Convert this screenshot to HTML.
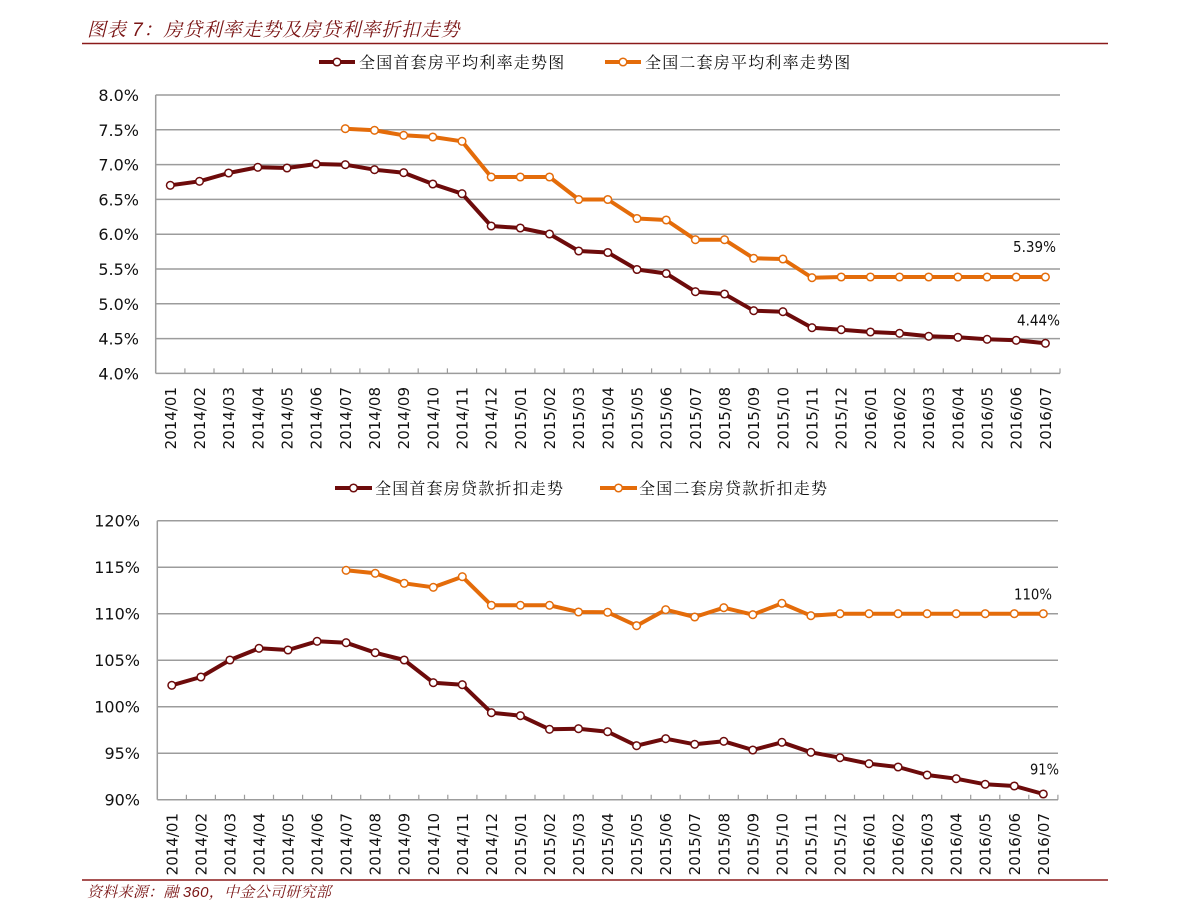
<!DOCTYPE html>
<html><head><meta charset="utf-8"><style>
html,body{margin:0;padding:0;background:#fff;}
svg{display:block;}
.yl{font-family:"DejaVu Sans","Liberation Sans",sans-serif;font-size:16px;fill:#111;}
.xl{font-family:"DejaVu Sans","Liberation Sans",sans-serif;font-size:15px;fill:#111;}
.dl{font-family:"DejaVu Sans","Liberation Sans",sans-serif;font-size:15px;fill:#111;}
.lg{font-family:"Liberation Serif","Noto Serif CJK SC",serif;font-size:16px;letter-spacing:1.2px;fill:#111;}
.ti{font-family:"Liberation Serif","Noto Serif CJK SC",serif;font-size:19px;font-style:italic;letter-spacing:0.8px;fill:#7a1515;}
.ft{font-family:"Liberation Serif","Noto Serif CJK SC",serif;font-size:15px;font-style:italic;letter-spacing:0.3px;fill:#7a1515;}
.sn{font-family:"Liberation Sans",sans-serif;font-style:italic;}
</style></head><body>
<svg width="1191" height="920" viewBox="0 0 1191 920" xmlns="http://www.w3.org/2000/svg">
<defs>
<marker id="md" markerUnits="userSpaceOnUse" markerWidth="12" markerHeight="12" refX="6" refY="6" viewBox="0 0 12 12"><circle cx="6" cy="6" r="3.8" fill="#fff" stroke="#6d0b0b" stroke-width="1.5"/></marker>
<marker id="mo" markerUnits="userSpaceOnUse" markerWidth="12" markerHeight="12" refX="6" refY="6" viewBox="0 0 12 12"><circle cx="6" cy="6" r="3.8" fill="#fff" stroke="#e46c0a" stroke-width="1.5"/></marker>
</defs>

<!-- Title -->
<text class="ti" x="87" y="36">图表 <tspan class="sn">7</tspan>：房贷利率走势及房贷利率折扣走势</text>
<line x1="82" y1="43.5" x2="1108" y2="43.5" stroke="#8b1a1a" stroke-width="1.5"/>

<!-- Chart 1 legend -->
<line x1="319" y1="62" x2="355" y2="62" stroke="#6d0b0b" stroke-width="4"/>
<circle cx="337" cy="62" r="3.8" fill="#fff" stroke="#6d0b0b" stroke-width="1.5"/>
<text class="lg" x="359" y="68">全国首套房平均利率走势图</text>
<line x1="605" y1="62" x2="641" y2="62" stroke="#e46c0a" stroke-width="4"/>
<circle cx="623" cy="62" r="3.8" fill="#fff" stroke="#e46c0a" stroke-width="1.5"/>
<text class="lg" x="645" y="68">全国二套房平均利率走势图</text>

<!-- Chart 1 grid -->
<g stroke="#9c9c9c" stroke-width="1.5">
<line x1="155.7" y1="95" x2="1060" y2="95"/>
<line x1="155.7" y1="129.8" x2="1060" y2="129.8"/>
<line x1="155.7" y1="164.6" x2="1060" y2="164.6"/>
<line x1="155.7" y1="199.4" x2="1060" y2="199.4"/>
<line x1="155.7" y1="234.2" x2="1060" y2="234.2"/>
<line x1="155.7" y1="269" x2="1060" y2="269"/>
<line x1="155.7" y1="303.8" x2="1060" y2="303.8"/>
<line x1="155.7" y1="338.6" x2="1060" y2="338.6"/>
<line x1="155.7" y1="373.4" x2="1060" y2="373.4"/>
<line x1="155.7" y1="95" x2="155.7" y2="373.4"/>
</g>
<path stroke="#9c9c9c" stroke-width="1.2" fill="none" d="M184.9 368.4V373.4M214.0 368.4V373.4M243.2 368.4V373.4M272.4 368.4V373.4M301.6 368.4V373.4M330.7 368.4V373.4M359.9 368.4V373.4M389.1 368.4V373.4M418.2 368.4V373.4M447.4 368.4V373.4M476.6 368.4V373.4M505.7 368.4V373.4M534.9 368.4V373.4M564.1 368.4V373.4M593.3 368.4V373.4M622.4 368.4V373.4M651.6 368.4V373.4M680.8 368.4V373.4M709.9 368.4V373.4M739.1 368.4V373.4M768.3 368.4V373.4M797.4 368.4V373.4M826.6 368.4V373.4M855.8 368.4V373.4M885.0 368.4V373.4M914.1 368.4V373.4M943.3 368.4V373.4M972.5 368.4V373.4M1001.6 368.4V373.4M1030.8 368.4V373.4M1060 368.4V373.4"/>

<!-- Chart 1 y labels -->
<g class="yl" text-anchor="end">
<text x="139" y="101">8.0%</text>
<text x="139" y="135.8">7.5%</text>
<text x="139" y="170.6">7.0%</text>
<text x="139" y="205.4">6.5%</text>
<text x="139" y="240.2">6.0%</text>
<text x="139" y="275">5.5%</text>
<text x="139" y="309.8">5.0%</text>
<text x="139" y="344.6">4.5%</text>
<text x="139" y="379.4">4.0%</text>
</g>

<!-- Chart 1 x labels -->
<g class="xl" text-anchor="end">
<text transform="translate(175.8,387) rotate(-90)">2014/01</text>
<text transform="translate(205.0,387) rotate(-90)">2014/02</text>
<text transform="translate(234.1,387) rotate(-90)">2014/03</text>
<text transform="translate(263.3,387) rotate(-90)">2014/04</text>
<text transform="translate(292.5,387) rotate(-90)">2014/05</text>
<text transform="translate(321.6,387) rotate(-90)">2014/06</text>
<text transform="translate(350.8,387) rotate(-90)">2014/07</text>
<text transform="translate(380.0,387) rotate(-90)">2014/08</text>
<text transform="translate(409.2,387) rotate(-90)">2014/09</text>
<text transform="translate(438.3,387) rotate(-90)">2014/10</text>
<text transform="translate(467.5,387) rotate(-90)">2014/11</text>
<text transform="translate(496.7,387) rotate(-90)">2014/12</text>
<text transform="translate(525.8,387) rotate(-90)">2015/01</text>
<text transform="translate(555.0,387) rotate(-90)">2015/02</text>
<text transform="translate(584.2,387) rotate(-90)">2015/03</text>
<text transform="translate(613.3,387) rotate(-90)">2015/04</text>
<text transform="translate(642.5,387) rotate(-90)">2015/05</text>
<text transform="translate(671.7,387) rotate(-90)">2015/06</text>
<text transform="translate(700.9,387) rotate(-90)">2015/07</text>
<text transform="translate(730.0,387) rotate(-90)">2015/08</text>
<text transform="translate(759.2,387) rotate(-90)">2015/09</text>
<text transform="translate(788.4,387) rotate(-90)">2015/10</text>
<text transform="translate(817.5,387) rotate(-90)">2015/11</text>
<text transform="translate(846.7,387) rotate(-90)">2015/12</text>
<text transform="translate(875.9,387) rotate(-90)">2016/01</text>
<text transform="translate(905.0,387) rotate(-90)">2016/02</text>
<text transform="translate(934.2,387) rotate(-90)">2016/03</text>
<text transform="translate(963.4,387) rotate(-90)">2016/04</text>
<text transform="translate(992.6,387) rotate(-90)">2016/05</text>
<text transform="translate(1021.7,387) rotate(-90)">2016/06</text>
<text transform="translate(1050.9,387) rotate(-90)">2016/07</text>
</g>

<!-- Chart 1 series -->
<polyline fill="none" stroke="#6d0b0b" stroke-width="4" stroke-linejoin="round" marker-start="url(#md)" marker-mid="url(#md)" marker-end="url(#md)"
points="170.3,185.3 199.5,181.3 228.6,173 257.8,167.3 287.0,168 316.1,164 345.3,164.7 374.5,169.7 403.7,172.7 432.8,184 462.0,193.7 491.2,226 520.3,228 549.5,234 578.7,251 607.8,252.5 637.0,269.5 666.2,273.5 695.4,291.7 724.5,294 753.7,310.7 782.9,311.7 812.0,327.7 841.2,329.7 870.4,332 899.5,333.3 928.7,336.3 957.9,337.3 987.1,339.3 1016.2,340.3 1045.4,343.3"/>
<polyline fill="none" stroke="#e46c0a" stroke-width="4" stroke-linejoin="round" marker-start="url(#mo)" marker-mid="url(#mo)" marker-end="url(#mo)"
points="345.3,128.7 374.5,130.3 403.7,135.3 432.8,137 462.0,141.3 491.2,177 520.3,177 549.5,177 578.7,199.5 607.8,199.5 637.0,218.5 666.2,220 695.4,239.7 724.5,239.7 753.7,258.3 782.9,259 812.0,277.7 841.2,277 870.4,277 899.5,277 928.7,277 957.9,277 987.1,277 1016.2,277 1045.4,277"/>
<text class="dl" x="1013" y="252" textLength="43" lengthAdjust="spacingAndGlyphs">5.39%</text>
<text class="dl" x="1017" y="325.5" textLength="43" lengthAdjust="spacingAndGlyphs">4.44%</text>

<!-- Chart 2 legend -->
<line x1="335" y1="488" x2="372" y2="488" stroke="#6d0b0b" stroke-width="4"/>
<circle cx="353.5" cy="488" r="3.8" fill="#fff" stroke="#6d0b0b" stroke-width="1.5"/>
<text class="lg" x="375" y="494">全国首套房贷款折扣走势</text>
<line x1="600" y1="488" x2="637" y2="488" stroke="#e46c0a" stroke-width="4"/>
<circle cx="618.5" cy="488" r="3.8" fill="#fff" stroke="#e46c0a" stroke-width="1.5"/>
<text class="lg" x="639" y="494">全国二套房贷款折扣走势</text>

<!-- Chart 2 grid -->
<g stroke="#9c9c9c" stroke-width="1.5">
<line x1="157.3" y1="520.7" x2="1058" y2="520.7"/>
<line x1="157.3" y1="567.2" x2="1058" y2="567.2"/>
<line x1="157.3" y1="613.7" x2="1058" y2="613.7"/>
<line x1="157.3" y1="660.2" x2="1058" y2="660.2"/>
<line x1="157.3" y1="706.7" x2="1058" y2="706.7"/>
<line x1="157.3" y1="753.2" x2="1058" y2="753.2"/>
<line x1="157.3" y1="799.7" x2="1058" y2="799.7"/>
<line x1="157.3" y1="520.7" x2="157.3" y2="799.7"/>
</g>
<path stroke="#9c9c9c" stroke-width="1.2" fill="none" d="M186.4 794.7V799.7M215.4 794.7V799.7M244.5 794.7V799.7M273.5 794.7V799.7M302.6 794.7V799.7M331.6 794.7V799.7M360.7 794.7V799.7M389.7 794.7V799.7M418.8 794.7V799.7M447.8 794.7V799.7M476.9 794.7V799.7M505.9 794.7V799.7M535.0 794.7V799.7M564.0 794.7V799.7M593.1 794.7V799.7M622.1 794.7V799.7M651.2 794.7V799.7M680.2 794.7V799.7M709.3 794.7V799.7M738.3 794.7V799.7M767.4 794.7V799.7M796.4 794.7V799.7M825.5 794.7V799.7M854.5 794.7V799.7M883.6 794.7V799.7M912.6 794.7V799.7M941.7 794.7V799.7M970.7 794.7V799.7M999.8 794.7V799.7M1028.8 794.7V799.7M1057.9 794.7V799.7"/>

<!-- Chart 2 y labels -->
<g class="yl" text-anchor="end">
<text x="140" y="526.7">120%</text>
<text x="140" y="573.2">115%</text>
<text x="140" y="619.7">110%</text>
<text x="140" y="666.2">105%</text>
<text x="140" y="712.7">100%</text>
<text x="140" y="759.2">95%</text>
<text x="140" y="805.7">90%</text>
</g>

<!-- Chart 2 x labels -->
<g class="xl" text-anchor="end">
<text transform="translate(177.3,813) rotate(-90)">2014/01</text>
<text transform="translate(206.4,813) rotate(-90)">2014/02</text>
<text transform="translate(235.4,813) rotate(-90)">2014/03</text>
<text transform="translate(264.5,813) rotate(-90)">2014/04</text>
<text transform="translate(293.5,813) rotate(-90)">2014/05</text>
<text transform="translate(322.6,813) rotate(-90)">2014/06</text>
<text transform="translate(351.6,813) rotate(-90)">2014/07</text>
<text transform="translate(380.7,813) rotate(-90)">2014/08</text>
<text transform="translate(409.7,813) rotate(-90)">2014/09</text>
<text transform="translate(438.8,813) rotate(-90)">2014/10</text>
<text transform="translate(467.8,813) rotate(-90)">2014/11</text>
<text transform="translate(496.9,813) rotate(-90)">2014/12</text>
<text transform="translate(525.9,813) rotate(-90)">2015/01</text>
<text transform="translate(555.0,813) rotate(-90)">2015/02</text>
<text transform="translate(584.0,813) rotate(-90)">2015/03</text>
<text transform="translate(613.1,813) rotate(-90)">2015/04</text>
<text transform="translate(642.1,813) rotate(-90)">2015/05</text>
<text transform="translate(671.2,813) rotate(-90)">2015/06</text>
<text transform="translate(700.2,813) rotate(-90)">2015/07</text>
<text transform="translate(729.3,813) rotate(-90)">2015/08</text>
<text transform="translate(758.3,813) rotate(-90)">2015/09</text>
<text transform="translate(787.4,813) rotate(-90)">2015/10</text>
<text transform="translate(816.4,813) rotate(-90)">2015/11</text>
<text transform="translate(845.5,813) rotate(-90)">2015/12</text>
<text transform="translate(874.5,813) rotate(-90)">2016/01</text>
<text transform="translate(903.6,813) rotate(-90)">2016/02</text>
<text transform="translate(932.6,813) rotate(-90)">2016/03</text>
<text transform="translate(961.7,813) rotate(-90)">2016/04</text>
<text transform="translate(990.7,813) rotate(-90)">2016/05</text>
<text transform="translate(1019.8,813) rotate(-90)">2016/06</text>
<text transform="translate(1048.8,813) rotate(-90)">2016/07</text>
</g>

<!-- Chart 2 series -->
<polyline fill="none" stroke="#6d0b0b" stroke-width="4" stroke-linejoin="round" marker-start="url(#md)" marker-mid="url(#md)" marker-end="url(#md)"
points="171.8,685.3 200.9,677 229.9,660 259.0,648.3 288.0,650 317.1,641.3 346.1,642.7 375.2,652.7 404.2,660 433.3,682.7 462.3,684.7 491.4,712.7 520.4,715.7 549.5,729.3 578.5,728.7 607.6,731.7 636.6,745.7 665.7,738.7 694.7,744.3 723.8,741.3 752.8,750 781.9,742.3 810.9,752.3 840.0,757.7 869.0,763.7 898.1,767 927.1,775 956.2,778.7 985.2,784.3 1014.3,786 1043.3,794"/>
<polyline fill="none" stroke="#e46c0a" stroke-width="4" stroke-linejoin="round" marker-start="url(#mo)" marker-mid="url(#mo)" marker-end="url(#mo)"
points="346.1,570.3 375.2,573.3 404.2,583.3 433.3,587.3 462.3,576.7 491.4,605.3 520.4,605.3 549.5,605.3 578.5,612 607.6,612.3 636.6,625.7 665.7,609.7 694.7,617 723.8,607.7 752.8,614.7 781.9,603.3 810.9,615.7 840.0,613.7 869.0,613.7 898.1,613.7 927.1,613.7 956.2,613.7 985.2,613.7 1014.3,613.7 1043.3,613.7"/>
<text class="dl" x="1014" y="599.5" textLength="38" lengthAdjust="spacingAndGlyphs">110%</text>
<text class="dl" x="1030" y="774.5" textLength="29" lengthAdjust="spacingAndGlyphs">91%</text>

<!-- Footer -->
<line x1="82" y1="880" x2="1108" y2="880" stroke="#8b1a1a" stroke-width="1.5"/>
<text class="ft" x="87" y="897">资料来源：融 <tspan class="sn">360</tspan>，中金公司研究部</text>
</svg>
</body></html>
